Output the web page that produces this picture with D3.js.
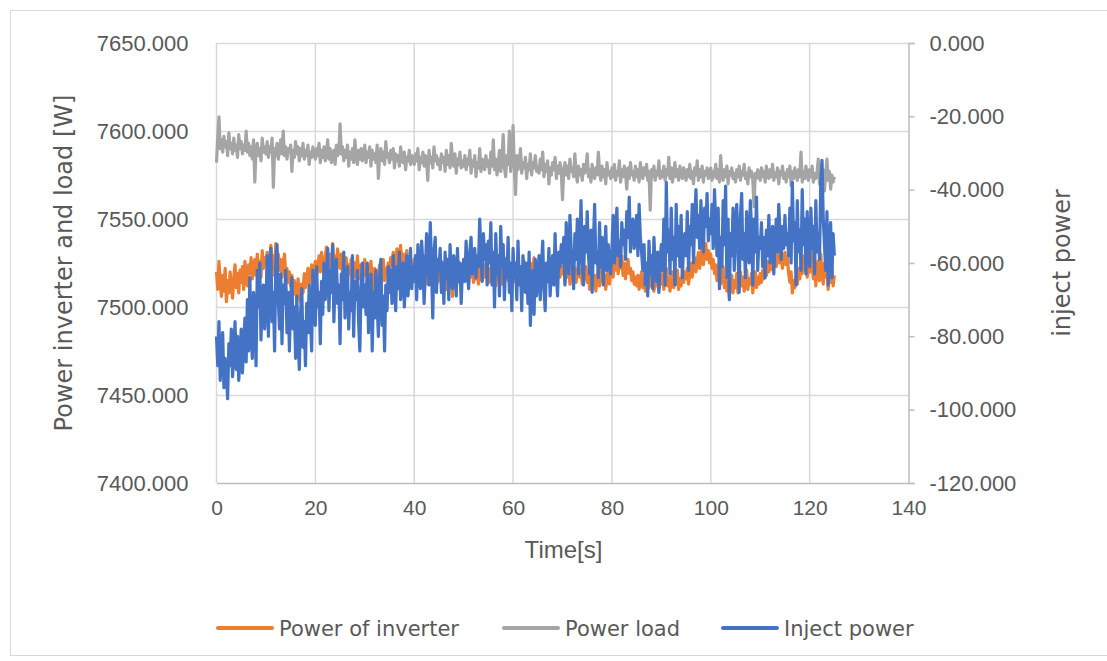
<!DOCTYPE html>
<html>
<head>
<meta charset="utf-8">
<script src="https://cdn.jsdelivr.net/npm/d3@7"></script>
<style>
  html, body { margin: 0; padding: 0; background: #fff; }
  svg { display: block; }
  text { font-family: "Liberation Sans", Arial, sans-serif; fill: #595959; }
</style>
</head>
<body>
<svg id="chart" width="1107" height="661"></svg>
<script>
// ---------- data ----------
const timeStep = 0.25;   // seconds between samples, samples start at t = 0
const inverterPower = [
  7520,7510,7526,7514,7506,7518,7509,7522,7503,7515,7508,7520,7512,7505,7517,7524,7511,7519,7508,7521,
  7514,7523,7510,7526,7517,7512,7524,7519,7528,7516,7522,7527,7518,7530,7521,7526,7517,7532,7522,7528,
  7524,7531,7520,7527,7535,7522,7529,7518,7536,7525,7530,7521,7527,7517,7524,7530,7519,7522,7514,7520,
  7512,7518,7507,7515,7510,7504,7516,7509,7503,7513,7508,7519,7511,7516,7522,7513,7518,7524,7516,7521,
  7526,7518,7523,7529,7520,7531,7524,7519,7528,7534,7522,7527,7530,7521,7536,7525,7529,7520,7533,7526,
  7522,7530,7518,7526,7521,7528,7515,7524,7519,7527,7513,7522,7525,7517,7529,7520,7516,7524,7512,7521,
  7527,7518,7523,7514,7520,7526,7516,7510,7522,7517,7508,7519,7524,7513,7520,7527,7515,7522,7518,7525,
  7521,7528,7524,7531,7519,7526,7533,7523,7529,7535,7524,7530,7521,7527,7532,7522,7528,7519,7525,7520,
  7527,7516,7523,7512,7520,7526,7515,7522,7529,7518,7524,7513,7521,7527,7516,7523,7511,7519,7525,7514,
  7521,7515,7526,7512,7519,7524,7510,7517,7522,7513,7519,7506,7515,7520,7511,7517,7523,7514,7519,7516,
  7521,7515,7524,7518,7513,7522,7517,7525,7514,7520,7516,7523,7513,7519,7524,7515,7521,7517,7525,7518,
  7522,7514,7519,7526,7517,7523,7512,7520,7527,7516,7522,7513,7519,7525,7518,7528,7515,7521,7517,7524,
  7518,7524,7514,7521,7527,7516,7522,7513,7519,7526,7517,7523,7512,7520,7525,7515,7521,7528,7518,7522,
  7516,7523,7513,7520,7526,7517,7522,7514,7519,7525,7516,7521,7527,7518,7524,7515,7520,7527,7517,7523,
  7519,7525,7514,7521,7517,7524,7513,7520,7526,7516,7522,7514,7519,7525,7517,7521,7513,7520,7516,7523,
  7514,7520,7510,7517,7522,7513,7518,7509,7516,7521,7512,7519,7524,7514,7518,7510,7516,7522,7513,7520,
  7524,7517,7528,7521,7531,7519,7526,7522,7529,7518,7525,7516,7523,7527,7519,7522,7515,7520,7513,7517,
  7512,7518,7510,7515,7520,7511,7516,7509,7514,7519,7511,7517,7512,7520,7509,7515,7512,7518,7510,7516,
  7513,7519,7510,7516,7522,7512,7517,7509,7515,7520,7511,7518,7513,7521,7510,7516,7512,7519,7514,7520,
  7516,7522,7513,7519,7525,7517,7523,7528,7520,7526,7531,7522,7528,7534,7524,7530,7536,7527,7532,7525,
  7530,7522,7527,7519,7524,7515,7521,7526,7513,7518,7523,7511,7517,7509,7514,7506,7512,7518,7508,7515,
  7511,7519,7508,7515,7520,7512,7517,7509,7514,7521,7510,7516,7513,7519,7508,7515,7520,7511,7517,7513,
  7519,7514,7521,7516,7524,7518,7526,7520,7523,7528,7521,7526,7530,7523,7528,7532,7525,7529,7522,7527,
  7531,7524,7528,7519,7514,7520,7508,7515,7511,7518,7513,7522,7516,7526,7519,7529,7521,7530,7517,7525,
  7520,7533,7524,7516,7528,7512,7522,7526,7515,7530,7519,7513,7525,7517,7522,7510,7520,7514,7523,7512,
  7518
];
const loadPower = [
  7582,7596,7608,7590,7595,7588,7597,7591,7594,7586,7599,7590,7593,7587,7596,7589,7592,7585,7598,7590,
  7594,7587,7592,7589,7600,7588,7593,7586,7591,7584,7595,7571,7589,7593,7586,7590,7583,7596,7588,7591,
  7587,7594,7585,7591,7588,7596,7568,7590,7586,7593,7584,7589,7595,7587,7600,7586,7591,7584,7590,7588,
  7592,7577,7589,7585,7594,7587,7591,7583,7590,7586,7593,7584,7589,7586,7592,7581,7588,7585,7591,7587,
  7584,7590,7586,7593,7582,7589,7585,7591,7583,7588,7595,7584,7590,7582,7587,7589,7581,7592,7586,7588,
  7604,7587,7591,7583,7589,7585,7592,7580,7588,7584,7590,7582,7595,7586,7581,7589,7584,7590,7583,7587,
  7592,7582,7588,7585,7591,7580,7589,7584,7587,7582,7592,7573,7586,7590,7583,7588,7581,7594,7585,7587,
  7582,7589,7584,7590,7579,7587,7583,7586,7580,7591,7584,7582,7588,7578,7585,7583,7589,7581,7586,7584,
  7581,7587,7583,7590,7578,7585,7582,7588,7580,7586,7583,7572,7589,7582,7585,7579,7591,7583,7586,7581,
  7584,7578,7587,7582,7585,7577,7589,7581,7586,7579,7593,7583,7580,7587,7576,7584,7581,7588,7579,7583,
  7580,7586,7578,7584,7581,7589,7576,7583,7580,7586,7574,7582,7579,7590,7577,7584,7581,7578,7586,7580,
  7583,7576,7588,7580,7595,7578,7584,7575,7582,7589,7577,7583,7598,7579,7574,7586,7581,7600,7577,7584,
  7603,7580,7564,7586,7578,7583,7590,7576,7582,7579,7585,7573,7581,7578,7587,7575,7582,7579,7586,7577,
  7580,7576,7584,7578,7588,7574,7581,7577,7583,7570,7579,7575,7582,7578,7585,7573,7580,7576,7582,7577,
  7561,7578,7582,7575,7580,7573,7584,7577,7579,7574,7587,7576,7571,7580,7575,7578,7572,7581,7576,7579,
  7587,7574,7578,7571,7581,7576,7573,7579,7575,7588,7577,7572,7580,7574,7578,7570,7582,7575,7577,7573,
  7579,7574,7581,7572,7577,7575,7583,7571,7578,7574,7580,7576,7567,7579,7573,7582,7575,7577,7572,7580,
  7574,7578,7571,7582,7576,7573,7579,7575,7581,7572,7577,7555,7578,7574,7580,7572,7577,7575,7583,7573,
  7577,7574,7580,7572,7578,7575,7585,7573,7579,7571,7576,7582,7574,7578,7572,7580,7575,7573,7579,7576,
  7572,7578,7574,7581,7573,7577,7570,7579,7575,7583,7572,7578,7574,7580,7571,7577,7575,7579,7573,7576,
  7579,7572,7577,7574,7581,7573,7578,7571,7586,7575,7572,7578,7574,7580,7570,7577,7575,7579,7573,7576,
  7571,7578,7574,7580,7572,7577,7575,7581,7573,7576,7570,7579,7574,7577,7572,7557,7576,7573,7578,7575,
  7572,7579,7574,7577,7571,7580,7575,7573,7578,7574,7581,7572,7576,7574,7579,7570,7577,7575,7580,7573,
  7576,7571,7578,7574,7580,7569,7577,7573,7579,7575,7572,7578,7574,7588,7571,7577,7573,7580,7575,7572,
  7578,7574,7580,7571,7576,7573,7577,7584,7570,7576,7573,7578,7566,7575,7584,7572,7577,7567,7575,7571,
  7574
];
const injectPower = [
  -80,-88,-76,-92,-84,-79,-94,-86,-90,-97,-82,-88,-78,-91,-84,-76,-89,-80,-92,-85,
  -78,-90,-82,-75,-87,-70,-84,-64,-79,-86,-68,-74,-88,-62,-72,-60,-81,-70,-66,-78,
  -72,-58,-80,-64,-56,-76,-68,-84,-60,-55,-70,-78,-63,-82,-66,-71,-62,-79,-68,-84,
  -70,-64,-78,-72,-86,-69,-80,-89,-74,-67,-83,-76,-88,-71,-79,-66,-75,-84,-62,-70,
  -77,-61,-72,-68,-82,-65,-74,-60,-70,-66,-56,-73,-62,-68,-55,-76,-64,-59,-71,-66,
  -82,-63,-70,-57,-75,-66,-61,-78,-68,-73,-58,-80,-65,-70,-62,-76,-84,-67,-60,-72,
  -66,-74,-60,-79,-70,-63,-84,-68,-75,-62,-71,-80,-64,-59,-77,-69,-84,-66,-73,-61,
  -68,-62,-71,-58,-66,-73,-61,-67,-57,-70,-64,-60,-72,-65,-58,-69,-63,-56,-67,-61,
  -65,-58,-70,-55,-62,-67,-54,-60,-71,-63,-52,-58,-66,-49,-61,-75,-57,-53,-68,-59,
  -62,-56,-68,-60,-71,-57,-64,-59,-70,-55,-63,-67,-58,-61,-69,-56,-65,-60,-71,-62,
  -59,-65,-54,-62,-67,-57,-53,-63,-60,-56,-64,-58,-61,-48,-57,-65,-52,-59,-55,-66,
  -54,-60,-49,-66,-57,-72,-52,-63,-58,-69,-50,-61,-55,-70,-59,-64,-53,-68,-60,-73,
  -56,-64,-60,-70,-54,-66,-61,-73,-58,-63,-68,-60,-71,-57,-77,-65,-62,-74,-59,-69,
  -64,-58,-70,-61,-54,-67,-73,-60,-65,-56,-69,-62,-58,-66,-52,-63,-69,-57,-61,-55,
  -60,-53,-66,-49,-58,-63,-47,-56,-61,-67,-52,-59,-48,-63,-55,-43,-60,-66,-50,-57,
  -46,-58,-63,-51,-68,-55,-44,-60,-57,-64,-49,-61,-53,-66,-58,-50,-62,-55,-60,-63,
  -56,-47,-60,-52,-45,-58,-54,-61,-49,-55,-51,-59,-46,-53,-42,-57,-50,-48,-56,-52,
  -47,-58,-44,-53,-57,-62,-55,-66,-60,-69,-54,-63,-58,-67,-53,-61,-65,-57,-68,-59,
  -55,-62,-48,-66,-38,-57,-51,-63,-45,-59,-53,-66,-44,-58,-50,-61,-47,-64,-55,-52,
  -58,-46,-62,-50,-55,-44,-60,-48,-40,-53,-47,-56,-43,-51,-57,-45,-50,-41,-54,-48,
  -52,-44,-56,-40,-49,-58,-45,-67,-53,-61,-43,-55,-39,-64,-48,-70,-52,-58,-45,-62,
  -50,-44,-57,-68,-47,-41,-59,-52,-64,-46,-55,-60,-43,-51,-66,-48,-57,-42,-62,-53,
  -56,-49,-61,-53,-64,-51,-58,-47,-60,-55,-50,-63,-54,-48,-57,-44,-52,-59,-50,-56,
  -47,-55,-52,-58,-45,-60,-38,-54,-49,-66,-43,-57,-51,-62,-40,-55,-48,-63,-46,-58,
  -61,-45,-56,-50,-63,-43,-57,-52,-59,-38,-32,-48,-55,-62,-46,-66,-53,-49,-64,-52,
  -58
];
const xTicks = [0, 20, 40, 60, 80, 100, 120, 140];
const leftTicks = [7400, 7450, 7500, 7550, 7600, 7650];
const rightTicks = [-120, -100, -80, -60, -40, -20, 0];
const seriesNames = ["Power of inverter", "Power load", "Inject power"];
const seriesColors = ["#ED7D31", "#A5A5A5", "#4472C4"];

// ---------- layout ----------
const svg = d3.select("#chart");
const plot = { left: 216.5, right: 908.5, top: 43, bottom: 483 };

// outer frame
svg.append("rect").attr("x", 10.5).attr("y", 10.5).attr("width", 1120).attr("height", 645)
  .attr("fill", "none").attr("stroke", "#D9D9D9").attr("stroke-width", 1);

const x = d3.scaleLinear().domain([0, 140]).range([plot.left, plot.right]);
const yL = d3.scaleLinear().domain([7400, 7650]).range([plot.bottom, plot.top]);
const yR = d3.scaleLinear().domain([-120, 0]).range([plot.bottom, plot.top]);

// gridlines
const grid = svg.append("g");
grid.selectAll("line.h").data(leftTicks.filter(d => d !== 7400)).join("line")
  .attr("x1", plot.left).attr("x2", plot.right)
  .attr("y1", d => Math.round(yL(d)) + 0.5).attr("y2", d => Math.round(yL(d)) + 0.5)
  .attr("stroke", "#D9D9D9").attr("stroke-width", 1.5);
grid.selectAll("line.v").data(xTicks.filter(d => d !== 140)).join("line")
  .attr("y1", plot.top).attr("y2", plot.bottom)
  .attr("x1", d => x(d)).attr("x2", d => x(d))
  .attr("stroke", "#D9D9D9").attr("stroke-width", 1.5);

// bottom axis
const xAxis = svg.append("g").attr("transform", `translate(0,${plot.bottom})`)
  .call(d3.axisBottom(x).tickValues(xTicks).tickSize(0).tickPadding(17).tickFormat(d3.format("d")));
xAxis.select(".domain").attr("stroke", "#BFBFBF").attr("stroke-width", 1.5);
xAxis.selectAll("text").style("font-size", "21px").attr("fill", "#595959");

// left axis (labels only)
const leftAxis = svg.append("g").attr("transform", `translate(${plot.left},0)`)
  .call(d3.axisLeft(yL).tickValues(leftTicks).tickSize(0).tickPadding(28).tickFormat(d3.format(".3f")));
leftAxis.select(".domain").remove();
leftAxis.selectAll("text").style("font-size", "22px").attr("fill", "#595959");

// right axis
const rightAxis = svg.append("g").attr("transform", `translate(${plot.right},0)`)
  .call(d3.axisRight(yR).tickValues(rightTicks).tickSize(6).tickPadding(15).tickFormat(d3.format(".3f")));
rightAxis.select(".domain").attr("stroke", "#BFBFBF").attr("stroke-width", 1.5);
rightAxis.selectAll(".tick line").attr("stroke", "#BFBFBF").attr("stroke-width", 1.5);
rightAxis.selectAll("text").style("font-size", "22px").attr("fill", "#595959")
  .text(d => d3.format(".3f")(d).replace("−", "-"));

// axis titles
svg.append("text").attr("transform", `translate(72,${(plot.top + plot.bottom) / 2}) rotate(-90)`)
  .attr("text-anchor", "middle").style("font-family", "'DejaVu Sans', sans-serif")
  .style("font-size", "24px").attr("fill", "#595959").text("Power inverter and load [W]");
svg.append("text").attr("transform", `translate(1070,${(plot.top + plot.bottom) / 2}) rotate(-90)`)
  .attr("text-anchor", "middle").style("font-family", "'DejaVu Sans', sans-serif")
  .style("font-size", "24px").attr("fill", "#595959").text("inject power");
svg.append("text").attr("x", (plot.left + plot.right) / 2 + 1).attr("y", 558)
  .attr("text-anchor", "middle").style("font-size", "24px").attr("fill", "#595959").text("Time[s]");

// ---------- series ----------
const series = svg.append("g");
const lineL = d3.line().x((d, i) => x(i * timeStep)).y(d => yL(d));
const lineR = d3.line().x((d, i) => x(i * timeStep)).y(d => yR(d));
series.append("path").datum(loadPower).attr("d", lineL)
  .attr("fill", "none").attr("stroke", seriesColors[1]).attr("stroke-width", 3.2).attr("stroke-linejoin", "round");
series.append("path").datum(inverterPower).attr("d", lineL)
  .attr("fill", "none").attr("stroke", seriesColors[0]).attr("stroke-width", 3.2).attr("stroke-linejoin", "round");
series.append("path").datum(injectPower).attr("d", lineR)
  .attr("fill", "none").attr("stroke", seriesColors[2]).attr("stroke-width", 3.2).attr("stroke-linejoin", "round");

// ---------- legend ----------
const legendX = [216, 502, 721];
const legend = svg.append("g");
seriesNames.forEach((name, i) => {
  const g = legend.append("g").attr("transform", `translate(${legendX[i]},628)`);
  g.append("line").attr("x1", 2).attr("x2", 56).attr("y1", 0).attr("y2", 0)
    .attr("stroke", seriesColors[i]).attr("stroke-width", 4).attr("stroke-linecap", "round");
  g.append("text").attr("x", 63).attr("y", 0).attr("dy", "0.36em")
    .style("font-family", "'DejaVu Sans', sans-serif")
    .style("font-size", "21px").attr("fill", "#595959").text(name);
});
</script>
</body>
</html>
